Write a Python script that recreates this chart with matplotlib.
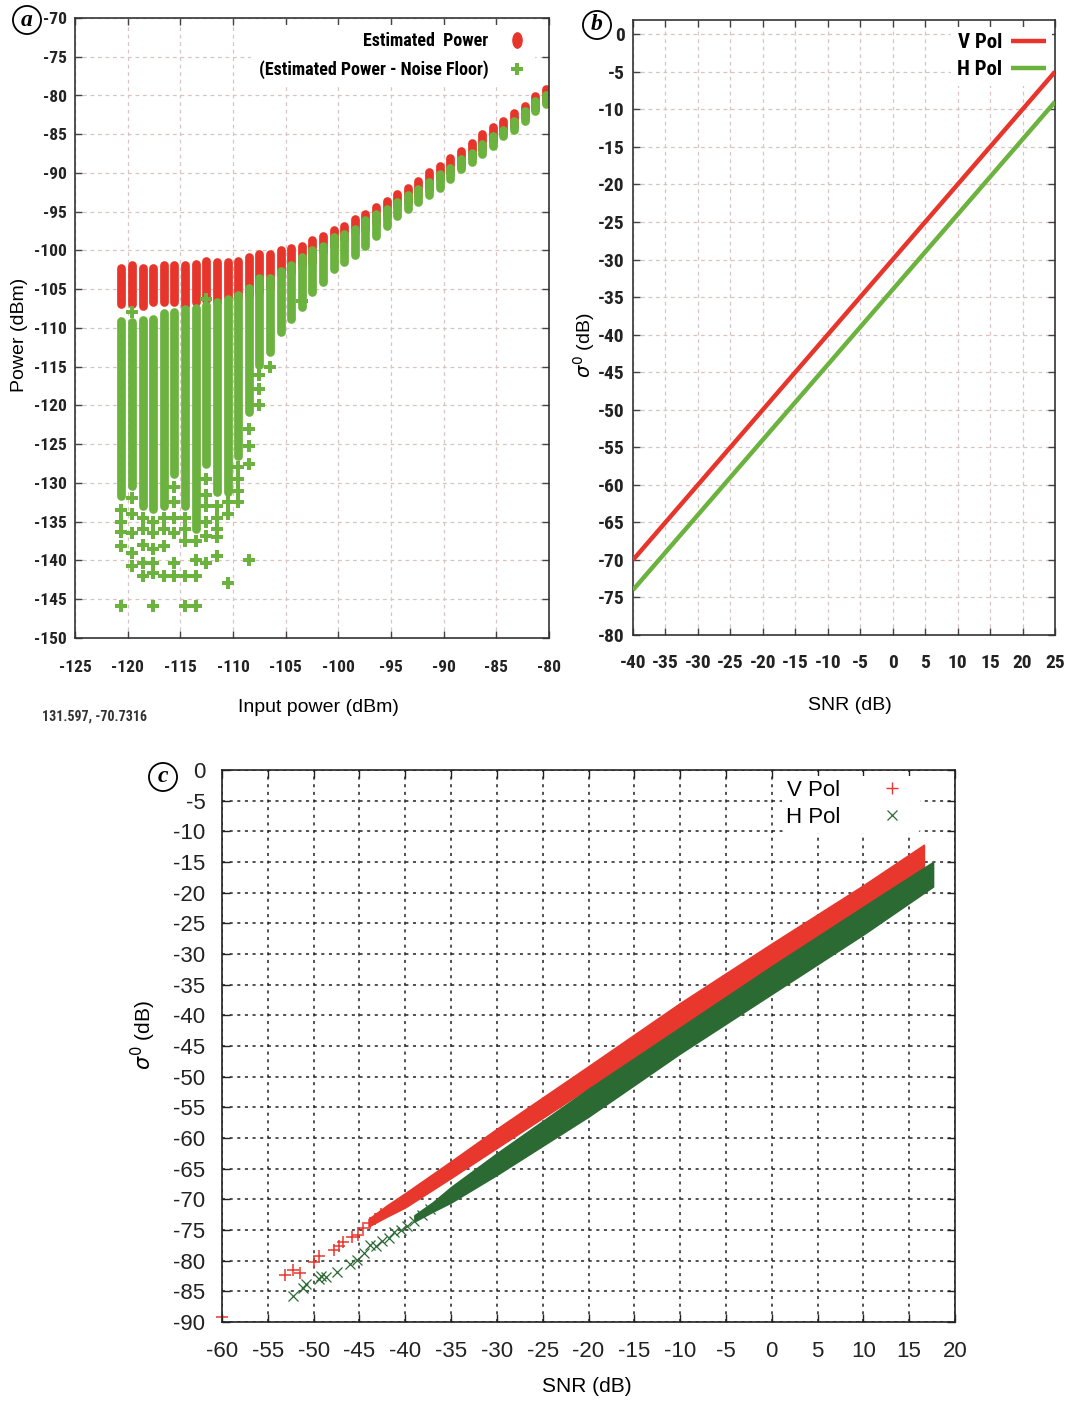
import numpy as np
import matplotlib
matplotlib.use("Agg")
import matplotlib.pyplot as plt
from matplotlib import font_manager
from matplotlib.lines import Line2D
from matplotlib.path import Path

plt.rcParams["axes.unicode_minus"] = False


def pick_font(*names):
    have = {f.name for f in font_manager.fontManager.ttflist}
    for n in names:
        if n in have:
            return n
    return "DejaVu Sans"


NARROW = pick_font("Liberation Sans Narrow", "Roboto Condensed", "DejaVu Sans")
SANS = pick_font("Liberation Sans", "DejaVu Sans")
SERIF = pick_font("Liberation Serif", "DejaVu Serif")

# ---- (a) receiver power sweep -------------------------------------------
input_power = np.round(np.linspace(-120.6, -80.3, 41), 2)

est_top = [-102.3, -101.9, -102.3, -102.2, -101.9, -101.9, -101.9, -101.8, -101.4, -101.5,
           -101.5, -101.4, -100.9, -100.4, -100.4, -100.0, -99.7, -99.4, -98.6, -98.1,
           -97.4, -96.8, -95.9, -95.3, -94.4, -93.6, -92.7, -91.9, -91.0, -89.9,
           -89.1, -88.1, -87.1, -86.1, -85.0, -84.1, -83.3, -82.2, -81.3, -80.1, -79.1]
est_bot = [-106.9, -106.9, -107.1, -106.7, -106.7, -106.7, -107.1, -106.7, -106.4, -106.6,
           -106.0, -106.0, -105.8, -105.4, -104.9, -103.2, -102.8, -101.9, -101.5, -100.2,
           -99.4, -98.5, -97.6, -97.2, -96.4, -95.5, -94.2, -93.8, -92.9, -92.1,
           -90.8, -89.9, -89.1, -88.0, -86.9, -85.9, -84.8, -83.9, -82.9, -81.8, -80.7]

diff_top = [-109.1, -109.2, -109.0, -108.9, -108.1, -108.0, -107.5, -107.4, -107.0, -106.6,
            -106.2, -105.8, -104.9, -103.6, -103.6, -102.6, -101.9, -100.9, -100.0, -99.4,
            -98.3, -97.9, -97.2, -96.1, -95.3, -94.6, -93.8, -92.9, -92.1, -91.2,
            -90.1, -89.3, -88.2, -87.4, -86.3, -85.2, -84.4, -83.3, -82.0, -80.7, -79.9]
diff_bot = [-131.7, -130.4, -133.0, -133.4, -133.0, -128.9, -133.0, -136.0, -127.6, -131.2,
            -131.2, -126.5, -120.9, -114.8, -113.1, -110.5, -108.8, -107.3, -105.4, -104.1,
            -102.4, -101.5, -100.6, -99.4, -98.1, -96.8, -95.5, -94.6, -93.8, -92.9,
            -91.9, -90.8, -89.5, -88.6, -87.6, -86.5, -85.2, -84.4, -83.3, -82.0, -81.1]

# scattered (Estimated Power - Noise Floor) samples away from the dense columns
stray_col = [0, 0, 0, 0, 0,
             1, 1, 1, 1, 1, 1,
             2, 2, 2, 2, 2,
             3, 3, 3, 3, 3, 3,
             4, 4, 4, 4,
             5, 5, 5, 5, 5, 5,
             6, 6, 6, 6, 6,
             7, 7, 7, 7,
             8, 8, 8, 8, 8, 8, 8,
             9, 9, 9, 9, 9,
             10, 10, 10,
             11, 11, 11, 11,
             12, 12, 12, 12,
             13, 13, 13,
             14, 17]
stray_pow = [-133.5, -135.0, -136.3, -138.1, -145.9,
             -107.9, -132.0, -134.0, -136.5, -139.0, -140.7,
             -134.5, -136.0, -138.0, -140.3, -142.0,
             -135.0, -136.5, -138.5, -140.3, -141.6, -145.9,
             -134.5, -136.0, -138.1, -142.0,
             -130.5, -132.5, -134.5, -136.5, -140.3, -142.0,
             -134.5, -136.0, -137.5, -142.0, -145.9,
             -137.5, -139.9, -142.0, -145.9,
             -106.3, -129.5, -131.5, -133.0, -135.0, -136.8, -140.3,
             -133.0, -134.5, -136.0, -137.0, -139.4,
             -132.5, -134.0, -142.9,
             -128.0, -129.5, -131.0, -132.5,
             -123.0, -125.2, -127.6, -139.9,
             -116.1, -117.9, -120.0,
             -115.0, -106.5]

# ---- (b) sigma0 vs SNR, model lines ---------------------------------------
snr_line = [-40, 25]
v_line = [-70, -5]
h_line = [-74, -9]

# ---- (c) sigma0 vs SNR, measured samples ----------------------------------
v_snr = [-44, -42, -40, -35, -30, -20, -10, 0, 10, 16.6]
v_upper = [-73.2, -71.0, -69.0, -63.8, -58.5, -48.3, -38.0, -28.3, -18.8, -12.2]
v_lower = [-74.4, -72.8, -71.3, -66.5, -61.6, -51.8, -41.8, -32.0, -22.5, -16.0]
h_snr = [-39, -37, -35, -30, -20, -10, 0, 10, 17.6]
h_upper = [-72.6, -70.5, -68.0, -62.5, -52.0, -42.0, -32.0, -22.3, -15.0]
h_lower = [-73.6, -72.0, -70.5, -66.0, -56.5, -46.2, -36.5, -26.8, -19.0]

v_tail_snr = [-53.1, -52.2, -51.5, -50.0, -49.4, -47.8, -47.2, -46.8, -45.8, -45.2,
              -44.6, -43.9, -43.3, -42.6]
v_tail_sig = [-82.4, -81.5, -82.0, -80.2, -79.3, -78.2, -77.6, -76.9, -76.1, -75.8,
              -74.7, -73.9, -73.2, -72.4]
h_tail_snr = [-52.2, -51.2, -50.8, -49.4, -49.2, -48.6, -47.4, -46.0, -45.3, -44.5,
              -43.8, -43.2, -42.5, -41.8, -41.2, -40.5, -39.8, -39.0, -38.2, -37.3]
h_tail_sig = [-85.8, -84.5, -83.8, -83.0, -82.5, -82.6, -81.8, -80.5, -79.9, -78.8,
              -77.5, -77.6, -76.8, -76.3, -75.4, -75.0, -74.3, -73.6, -72.6, -71.5]

RED_A = "#e8352b"
GREEN_A = "#6bb33e"
RED_C = "#e8372d"
GREEN_C = "#2b6a33"

W, H = 1069, 1401
fig = plt.figure(figsize=(W / 100, H / 100), dpi=100)


def axes_px(l, t, r, b):
    return fig.add_axes([l / W, 1 - b / H, (r - l) / W, (b - t) / H])


def fig_text(x, y, s, **kw):
    fig.text(x / W, 1 - y / H, s, **kw)


def style_ab(ax, size, grid_color="#d8c4c4"):
    ax.grid(True, color=grid_color, ls=(0, (3, 3)), lw=0.9)
    ax.set_axisbelow(True)
    ax.tick_params(direction="in", top=True, right=True, length=5, width=1,
                   color="#444444")
    for s in ax.spines.values():
        s.set_color("#333333")
        s.set_linewidth(1.2)
    for lab in ax.get_xticklabels() + ax.get_yticklabels():
        lab.set_fontfamily(NARROW)
        lab.set_fontweight("bold")
        lab.set_fontsize(size)
        lab.set_color("#222222")


# panel (a)
ax_a = axes_px(75, 18, 549, 638)
ax_a.vlines(input_power, est_bot, est_top, colors=RED_A, lw=6.3, capstyle="round")
ax_a.vlines(input_power, diff_bot, diff_top, colors=GREEN_A, lw=6.3, capstyle="round")
ax_a.plot(input_power[stray_col], stray_pow, "P", color=GREEN_A, ms=8.5, mew=0, ls="none")
ax_a.set_xlim(-125, -80)
ax_a.set_ylim(-150, -70)
ax_a.set_xticks(range(-125, -79, 5))
ax_a.set_yticks(range(-150, -69, 5))
ax_a.tick_params(axis="x", pad=16)
ax_a.tick_params(axis="y", pad=6)
style_ab(ax_a, 12.5)

circ = Path.unit_circle()
oval = Path(circ.vertices * [0.6, 1.0], circ.codes)
ax_a.legend(
    [Line2D([], [], marker=oval, color=RED_A, ms=11, ls="none"),
     Line2D([], [], marker="P", color=GREEN_A, ms=9, mew=0, ls="none")],
    ["Estimated  Power", "(Estimated Power - Noise Floor)"],
    loc="upper right", bbox_to_anchor=(0.99, 1.003), markerfirst=False,
    frameon=True, facecolor="white", edgecolor="none", framealpha=1,
    prop={"family": NARROW, "weight": "bold", "size": 13},
    handletextpad=1.0, labelspacing=0.55, borderpad=0.4, handlelength=1.2)

fig_text(20, 335, "Power (dBm)", rotation=90, ha="center", va="center",
         family=SANS, fontsize=14)
fig_text(318, 708, "Input power (dBm)", ha="center", va="center",
         family=SANS, fontsize=14)
fig_text(42, 717, "131.597, -70.7316", ha="left", va="center",
         family=NARROW, fontweight="bold", fontsize=10, color="#333333")

# panel (b)
ax_b = axes_px(633, 20, 1055, 635)
ax_b.plot(snr_line, v_line, color=RED_A, lw=3.2, solid_capstyle="butt", label="V Pol",
          zorder=3)
ax_b.plot(snr_line, h_line, color=GREEN_A, lw=3.2, solid_capstyle="butt", label="H Pol",
          zorder=3)
ax_b.set_xlim(-40, 25)
ax_b.set_ylim(-80, 1.9)
ax_b.set_xticks(range(-40, 26, 5))
ax_b.set_yticks(range(-80, 1, 5))
ax_b.tick_params(axis="x", pad=14)
ax_b.tick_params(axis="y", pad=6)
style_ab(ax_b, 14)
leg_b = ax_b.legend(loc="upper right", bbox_to_anchor=(1.018, 1.006), markerfirst=False,
                    frameon=True, facecolor="white", edgecolor="none", framealpha=1,
                    prop={"family": NARROW, "weight": "bold", "size": 15},
                    handlelength=1.7, handletextpad=0.4, labelspacing=0.4, borderpad=0.3)
leg_b.set_zorder(2)

fig_text(584, 345, r"$\sigma^0$ (dB)", rotation=90, ha="center", va="center",
         family=SANS, fontsize=14)
fig_text(850, 706, "SNR (dB)", ha="center", va="center", family=SANS, fontsize=14)

# panel (c)
ax_c = axes_px(222, 770, 955, 1322)
ax_c.fill_between(v_snr, v_lower, v_upper, color=RED_C, lw=1.2, ec=RED_C)
ax_c.plot(v_tail_snr, v_tail_sig, "+", color=RED_C, ms=8, mew=1.1, ls="none")
ax_c.plot([-60], [-89.2], "_", color=RED_C, ms=8, mew=1.1, clip_on=False)
ax_c.fill_between(h_snr, h_lower, h_upper, color=GREEN_C, lw=1.2, ec=GREEN_C)
ax_c.plot(h_tail_snr, h_tail_sig, "x", color=GREEN_C, ms=6.5, mew=0.9, ls="none")
ax_c.set_xlim(-60, 20)
ax_c.set_ylim(-90, 0)
ax_c.set_xticks(range(-60, 21, 5))
ax_c.set_yticks(range(-90, 1, 5))
ax_c.grid(True, color="#222222", ls=(0, (2, 3)), lw=1.1)
ax_c.set_axisbelow(True)
ax_c.tick_params(direction="in", top=True, right=True, length=6, width=1,
                 labelsize=16, colors="#222222")
ax_c.tick_params(axis="x", pad=14)
ax_c.tick_params(axis="y", pad=12)
for lab in ax_c.get_xticklabels() + ax_c.get_yticklabels():
    lab.set_fontfamily(SANS)
for s in ax_c.spines.values():
    s.set_color("#222222")
    s.set_linewidth(1.2)
leg_c = ax_c.legend(
    [Line2D([], [], marker="+", color=RED_C, ms=8, mew=1, ls="none"),
     Line2D([], [], marker="x", color=GREEN_C, ms=7, mew=0.9, ls="none")],
    ["V Pol", "H Pol"], loc="upper right", bbox_to_anchor=(0.968, 1.01),
    markerfirst=False, frameon=True, facecolor="white", edgecolor="none",
    framealpha=1, prop={"family": SANS, "size": 16}, handlelength=2.2,
    handletextpad=1.2, labelspacing=0.28, borderpad=0.2)
leg_c.set_zorder(2)

fig_text(143, 1035, r"$\sigma^0$ (dB)", rotation=90, ha="center", va="center",
         family=SANS, fontsize=15)
fig_text(587, 1387, "SNR (dB)", ha="center", va="center", family=SANS, fontsize=15)

# circled panel letters
for x, y, s in [(27, 20, "a"), (597, 25, "b"), (163, 777, "c")]:
    fig_text(x, y, s, ha="center", va="center", family=SERIF, style="italic",
             fontweight="bold", fontsize=17,
             bbox=dict(boxstyle="circle,pad=0.15", fc="white", ec="black", lw=1.3))

fig.savefig("out.png", dpi=100, facecolor="white")
